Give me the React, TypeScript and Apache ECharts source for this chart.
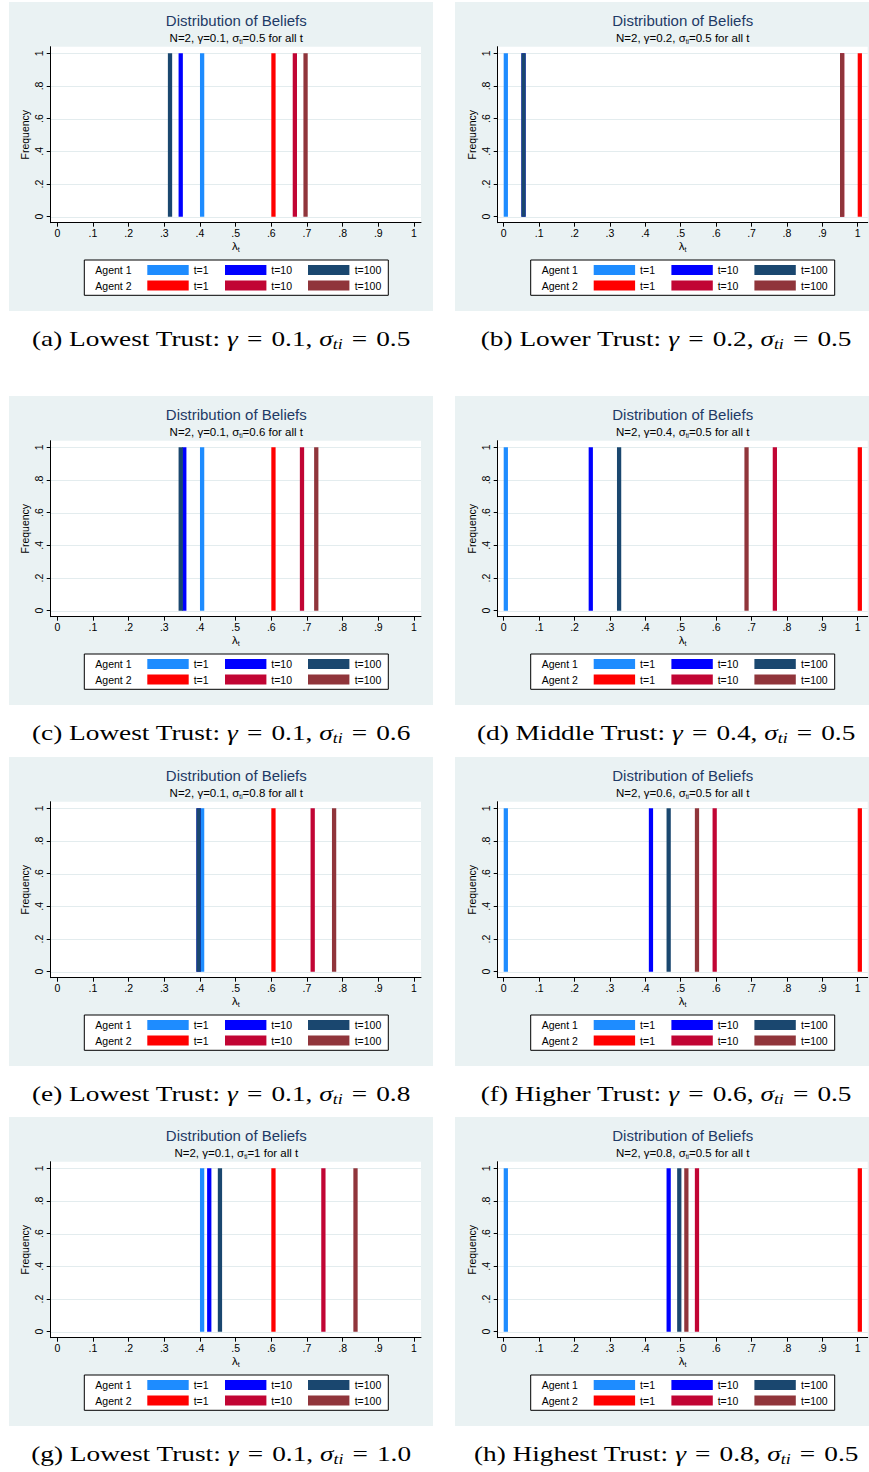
import React, { useEffect, useRef } from 'react';
import * as echarts from 'echarts';

// ---------- data ----------
const PANEL_LETTERS = ['a', 'b', 'c', 'd', 'e', 'f', 'g', 'h'];
const TRUST_LABELS = [
  'Lowest Trust', 'Lower Trust', 'Lowest Trust', 'Middle Trust',
  'Lowest Trust', 'Higher Trust', 'Lowest Trust', 'Highest Trust',
];
const GAMMA = [0.1, 0.2, 0.1, 0.4, 0.1, 0.6, 0.1, 0.8];
const SIGMA = [0.5, 0.5, 0.6, 0.5, 0.8, 0.5, 1, 0.5];

const AGENT1_T1 = [0.40, 0.00, 0.40, 0.00, 0.40, 0.00, 0.40, 0.00];
const AGENT1_T10 = [0.34, 0.05, 0.35, 0.24, 0.39, 0.41, 0.42, 0.46];
const AGENT1_T100 = [0.31, 0.05, 0.34, 0.32, 0.39, 0.46, 0.45, 0.49];
const AGENT2_T1 = [0.60, 1.00, 0.60, 1.00, 0.60, 1.00, 0.60, 1.00];
const AGENT2_T10 = [0.66, 0.95, 0.68, 0.76, 0.71, 0.59, 0.74, 0.54];
const AGENT2_T100 = [0.69, 0.95, 0.72, 0.68, 0.77, 0.54, 0.83, 0.51];
const FREQUENCY = 1;

const X_TICKS = [0, 0.1, 0.2, 0.3, 0.4, 0.5, 0.6, 0.7, 0.8, 0.9, 1];
const Y_TICKS = [0, 0.2, 0.4, 0.6, 0.8, 1];
const AGENTS = ['Agent 1', 'Agent 2'];
const PERIODS = ['t=1', 't=10', 't=100'];

// ---------- styles / layout ----------
const AGENT_COLORS = [
  ['#1e8cff', '#0000ff', '#1a476f'],
  ['#ff0000', '#c10534', '#90353b'],
];
const BAR_WIDTH = 0.012;
const SANS = 'Liberation Sans, Arial, sans-serif';
const SERIF = 'Liberation Serif, Times New Roman, serif';
const BG = '#eaf2f3';
const GRID_COLOR = '#e3ecee';
const TITLE_COLOR = '#1e3a66';
const WS = '\u2004';

const COLS = [
  { bgLeft: 9, bgRight: 433, plotLeft: 50.7, plotRight: 421, x0: 57.3, x1: 414, cx: 236.3, capCx: 221 },
  { bgLeft: 455, bgRight: 869, plotLeft: 497.7, plotRight: 867.7, x0: 503.7, x1: 857.7, cx: 682.7, capCx: 666 },
];
const ROW_TOPS = [2, 396, 757, 1117];
const PANEL_H = 309;

const fmtTick = (v: number) => {
  const s = Number(v).toFixed(1);
  if (s === '0.0') return '0';
  if (s === '1.0') return '1';
  return s.replace(/^0/, '');
};

function buildOption() {
  const grids: any[] = [];
  const xAxes: any[] = [];
  const yAxes: any[] = [];
  const series: any[] = [];
  const graphics: any[] = [];
  const values = [AGENT1_T1, AGENT1_T10, AGENT1_T100, AGENT2_T1, AGENT2_T10, AGENT2_T100];

  for (let i = 0; i < PANEL_LETTERS.length; i++) {
    const col = COLS[i % 2];
    const top = ROW_TOPS[Math.floor(i / 2)];
    const plotTop = top + 44.7;
    const plotBottom = top + 220.7;
    const y0 = top + 214.7;
    const y1 = top + 51.3;
    const xs = col.x1 - col.x0;
    const ys = y0 - y1;

    graphics.push({
      type: 'rect', z: 0,
      shape: { x: col.bgLeft, y: top, width: col.bgRight - col.bgLeft, height: PANEL_H },
      style: { fill: BG },
    });
    graphics.push({
      type: 'rect', z: 0,
      shape: { x: col.plotLeft, y: plotTop, width: col.plotRight - col.plotLeft, height: plotBottom - plotTop },
      style: { fill: '#ffffff' },
    });

    grids.push({
      left: col.plotLeft, top: plotTop,
      width: col.plotRight - col.plotLeft, height: plotBottom - plotTop,
      containLabel: false,
    });

    xAxes.push({
      type: 'value', gridIndex: i, z: 4,
      min: (col.plotLeft - col.x0) / xs,
      max: 1 + (col.plotRight - col.x1) / xs,
      axisLine: { show: true, onZero: false, lineStyle: { color: '#000', width: 1 } },
      axisTick: { show: true, customValues: X_TICKS, length: 4, lineStyle: { color: '#000' } },
      axisLabel: { customValues: X_TICKS, formatter: fmtTick, fontSize: 10.5, color: '#000', margin: 5, fontFamily: SANS },
      splitLine: { show: false },
      name: '{l|λ}{s|t}', nameLocation: 'middle', nameGap: 17,
      nameTextStyle: {
        lineHeight: 13,
        rich: {
          l: { fontSize: 11.5, fontFamily: SANS, color: '#000', lineHeight: 13 },
          s: { fontSize: 7, fontFamily: SANS, color: '#000', verticalAlign: 'bottom' },
        },
      },
    });

    yAxes.push({
      type: 'value', gridIndex: i, z: 4,
      min: -(plotBottom - y0) / ys,
      max: 1 + (y1 - plotTop) / ys,
      axisLine: { show: true, onZero: false, lineStyle: { color: '#000', width: 1 } },
      axisTick: { show: true, customValues: Y_TICKS, length: 4, lineStyle: { color: '#000' } },
      axisLabel: { customValues: Y_TICKS, formatter: fmtTick, rotate: 90, fontSize: 10.5, color: '#000', margin: 6, fontFamily: SANS },
      splitLine: { show: false },
      name: 'Frequency', nameLocation: 'middle', nameGap: 20,
      nameTextStyle: { fontSize: 10.5, color: '#000', fontFamily: SANS },
    });

    series.push({
      type: 'custom', xAxisIndex: i, yAxisIndex: i, z: 1, silent: true,
      data: Y_TICKS.map((v) => [0, v]),
      encode: { x: 0, y: 1 },
      renderItem: (params: any, api: any) => {
        const cs = params.coordSys;
        const y = Math.round(api.coord([0, api.value(1)])[1]) + 0.5;
        return {
          type: 'line',
          shape: { x1: cs.x, y1: y, x2: cs.x + cs.width, y2: y },
          style: { stroke: GRID_COLOR, lineWidth: 1 },
        };
      },
    });

    for (let k = 0; k < 6; k++) {
      const color = AGENT_COLORS[Math.floor(k / 3)][k % 3];
      series.push({
        type: 'custom',
        name: `${AGENTS[Math.floor(k / 3)]} ${PERIODS[k % 3]}`,
        xAxisIndex: i, yAxisIndex: i, z: 3,
        data: [[values[k][i], FREQUENCY]],
        encode: { x: 0, y: 1 },
        renderItem: (params: any, api: any) => {
          const x = api.value(0);
          const f = api.value(1);
          const p0 = api.coord([x, 0]);
          const p1 = api.coord([x + BAR_WIDTH, f]);
          return {
            type: 'rect',
            shape: { x: p0[0], y: p1[1], width: p1[0] - p0[0], height: p0[1] - p1[1] },
            style: { fill: color },
          };
        },
      });
    }

    graphics.push({
      type: 'text', z: 5,
      style: {
        x: col.cx, y: top + 18, text: 'Distribution of Beliefs',
        fontSize: 15, fontFamily: SANS, fill: TITLE_COLOR,
        align: 'center', verticalAlign: 'middle', textAlign: 'center', textVerticalAlign: 'middle',
      },
    });
    graphics.push({
      type: 'text', z: 5,
      style: {
        x: col.cx, y: top + 36.3,
        text: `N=2, γ=${GAMMA[i]}, σ{s|ti}=${SIGMA[i]} for all t`,
        fontSize: 11.5, fontFamily: SANS, fill: '#000', lineHeight: 14,
        align: 'center', verticalAlign: 'middle', textAlign: 'center', textVerticalAlign: 'middle',
        rich: {
          s: { fontSize: 6.5, fontFamily: SANS, fill: '#000', verticalAlign: 'bottom' },
        },
      },
    });

    const cx = col.cx;
    graphics.push({
      type: 'rect', z: 5,
      shape: { x: cx - 152, y: top + 258, width: 304, height: 35.3 },
      style: { fill: '#fff', stroke: '#000', lineWidth: 1 },
    });
    const swatchX = [-89, -11.3, 71.7];
    const labelX = [-42.6, 35, 118.4];
    for (let a = 0; a < 2; a++) {
      const rowY = top + (a === 0 ? 268 : 283.5);
      graphics.push({
        type: 'text', z: 6,
        style: {
          x: cx - 141, y: rowY, text: AGENTS[a], fontSize: 10.5, fontFamily: SANS, fill: '#000',
          align: 'left', verticalAlign: 'middle', textAlign: 'left', textVerticalAlign: 'middle',
        },
      });
      for (let p = 0; p < 3; p++) {
        graphics.push({
          type: 'rect', z: 6,
          shape: { x: cx + swatchX[p], y: rowY - 5, width: 41.4, height: 10 },
          style: { fill: AGENT_COLORS[a][p] },
        });
        graphics.push({
          type: 'text', z: 6,
          style: {
            x: cx + labelX[p], y: rowY, text: PERIODS[p], fontSize: 10.5, fontFamily: SANS, fill: '#000',
            align: 'left', verticalAlign: 'middle', textAlign: 'left', textVerticalAlign: 'middle',
          },
        });
      }
    }

    graphics.push({
      type: 'text', z: 6,
      x: col.capCx, y: top + 337, scaleX: 1.27, scaleY: 1,
      style: {
        x: 0, y: 0,
        text: `(${PANEL_LETTERS[i]}) ${TRUST_LABELS[i]}: {i|γ}${WS}=${WS}${GAMMA[i].toFixed(1)}, {i|σ}{s|ti}${WS}=${WS}${SIGMA[i].toFixed(1)}`,
        fontSize: 21.5, fontFamily: SERIF, fill: '#000', lineHeight: 24,
        align: 'center', verticalAlign: 'middle', textAlign: 'center', textVerticalAlign: 'middle',
        rich: {
          i: { fontSize: 21.5, fontFamily: SERIF, fontStyle: 'italic', fill: '#000', lineHeight: 24 },
          s: { fontSize: 14, fontFamily: SERIF, fontStyle: 'italic', fill: '#000', verticalAlign: 'bottom' },
        },
      },
    });
  }

  return {
    animation: false,
    backgroundColor: '#ffffff',
    grid: grids,
    xAxis: xAxes,
    yAxis: yAxes,
    series,
    graphic: { elements: graphics },
  };
}

export default function App() {
  const ref = useRef<HTMLDivElement>(null);
  useEffect(() => {
    document.body.style.overflow = 'hidden';
    if (!ref.current) return;
    const chart = echarts.init(ref.current, null, { renderer: 'svg' });
    chart.setOption(buildOption() as any);
    return () => chart.dispose();
  }, []);
  return (
    <div
      ref={ref}
      style={{ position: 'absolute', left: 0, top: 0, width: 869, height: 1472 }}
    />
  );
}
